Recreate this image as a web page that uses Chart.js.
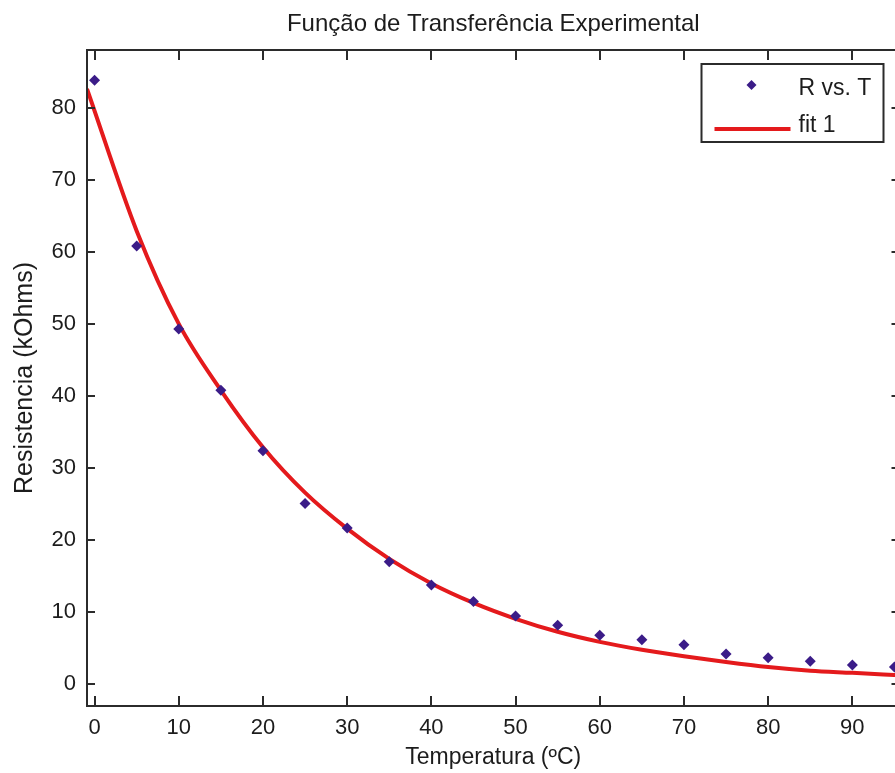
<!DOCTYPE html>
<html>
<head>
<meta charset="utf-8">
<script src="https://cdn.jsdelivr.net/npm/chart.js@4"></script>
<style>
  html, body { margin: 0; padding: 0; background: #fff; overflow: hidden; }
  #caixa { position: absolute; left: 0; top: 0; width: 905px; height: 773px; }
</style>
</head>
<body>
<div id="caixa"><canvas id="grafico"></canvas></div>
<script>
const temperaturas = [0, 5, 10, 15, 20, 25, 30, 35, 40, 45, 50, 55, 60, 65, 70, 75, 80, 85, 90, 95];
const resistencias = [83.8, 60.8, 49.3, 40.8, 32.4, 25.1, 21.7, 17.0, 13.8, 11.5, 9.5, 8.2, 6.8, 6.2, 5.5, 4.2, 3.7, 3.2, 2.7, 2.4];

const ajusteT = [-0.9, 5, 10, 15, 20, 25, 30, 35, 40, 45, 50, 55, 60, 65, 70, 75, 80, 85, 90, 95.6];
const ajusteR = [82.6, 62.9, 50.0, 40.8, 32.9, 26.6, 21.6, 17.4, 14.0, 11.3, 9.1, 7.3, 5.9, 4.8, 3.9, 3.1, 2.4, 1.9, 1.6, 1.25];

// MARCAS DOS EIXOS
const ticksX = [0, 10, 20, 30, 40, 50, 60, 70, 80, 90];
const ticksY = [0, 10, 20, 30, 40, 50, 60, 70, 80];

const nomes = ['R vs. T', 'fit 1'];

const fonte = 'Liberation Sans, Arial, sans-serif';
const corTexto = '#1c1c1c';
const corEixo = '#2b2b2b';
const corPonto = '#3b1c88';
const corAjuste = '#e41a1c';

// caixa do eixo com marcas para dentro (estilo MATLAB)
const eixosMatlab = {
  id: 'eixosMatlab',
  afterDatasetsDraw(chart) {
    const { ctx, chartArea: a, scales: { x, y } } = chart;
    ctx.save();
    ctx.strokeStyle = corEixo;
    ctx.lineWidth = 2;
    ctx.strokeRect(a.left, a.top, a.right - a.left, a.bottom - a.top);
    ctx.beginPath();
    x.ticks.forEach(t => {
      const px = Math.round(x.getPixelForValue(t.value));
      ctx.moveTo(px, a.bottom); ctx.lineTo(px, a.bottom - 10);
      ctx.moveTo(px, a.top); ctx.lineTo(px, a.top + 10);
    });
    y.ticks.forEach(t => {
      const py = Math.round(y.getPixelForValue(t.value));
      ctx.moveTo(a.left, py); ctx.lineTo(a.left + 8, py);
      ctx.moveTo(a.right, py); ctx.lineTo(a.right - 8, py);
    });
    ctx.stroke();
    ctx.restore();
  }
};

// legenda dentro do eixo, canto superior direito
const legendaCaixa = {
  id: 'legendaCaixa',
  afterDraw(chart) {
    const { ctx, chartArea: a } = chart;
    const w = 182, h = 78;
    const x0 = a.right - 16 - w, y0 = a.top + 14;
    ctx.save();
    ctx.fillStyle = '#fff';
    ctx.fillRect(x0, y0, w, h);
    ctx.strokeStyle = corEixo;
    ctx.lineWidth = 2;
    ctx.strokeRect(x0, y0, w, h);

    // marcador
    const mx = x0 + 50, my = y0 + 21;
    ctx.fillStyle = corPonto;
    ctx.beginPath();
    ctx.moveTo(mx, my - 5); ctx.lineTo(mx + 5, my);
    ctx.lineTo(mx, my + 5); ctx.lineTo(mx - 5, my);
    ctx.closePath();
    ctx.fill();

    // linha
    ctx.strokeStyle = corAjuste;
    ctx.lineWidth = 4;
    ctx.beginPath();
    ctx.moveTo(x0 + 13, y0 + 65); ctx.lineTo(x0 + 89, y0 + 65);
    ctx.stroke();

    ctx.fillStyle = corTexto;
    ctx.font = '23px ' + fonte;
    ctx.textBaseline = 'alphabetic';
    ctx.textAlign = 'left';
    ctx.fillText(nomes[0], x0 + 97, y0 + 31);
    ctx.fillText(nomes[1], x0 + 97, y0 + 68);
    ctx.restore();
  }
};

const ctx = document.getElementById('grafico').getContext('2d');

new Chart(ctx, {
  type: 'scatter',
  data: {
    datasets: [{
      label: nomes[0],
      data: temperaturas.map((t, i) => ({ x: t, y: resistencias[i] })),
      pointStyle: 'rectRot',
      pointRadius: 5.5,
      pointBackgroundColor: corPonto,
      pointBorderWidth: 0,
      showLine: false,
      order: 1
    }, {
      label: nomes[1],
      data: ajusteT.map((t, i) => ({ x: t, y: ajusteR[i] })),
      showLine: true,
      borderColor: corAjuste,
      borderWidth: 4,
      pointRadius: 0,
      cubicInterpolationMode: 'monotone',
      order: 2
    }]
  },
  plugins: [eixosMatlab, legendaCaixa],
  options: {
    responsive: true,
    maintainAspectRatio: false,
    animation: false,
    layout: { padding: { left: 0, right: 5, top: 0, bottom: 0 } },
    plugins: {
      legend: { display: false },
      tooltip: { enabled: false },
      title: {
        display: true,
        fullSize: false,
        text: 'Função de Transferência Experimental',
        color: corTexto,
        font: { family: fonte, size: 24, weight: 'normal' },
        padding: { top: 10.3, bottom: 10.9 }
      }
    },
    scales: {
      x: {
        type: 'linear',
        min: -0.9,
        max: 95.6,
        afterBuildTicks: s => { s.ticks = ticksX.map(v => ({ value: v })); },
        afterFit: s => { s.height = 67; },
        grid: { display: false, drawTicks: false },
        border: { display: false },
        ticks: {
          color: corTexto,
          padding: 9,
          maxRotation: 0,
          autoSkip: false,
          font: { family: fonte, size: 22 }
        },
        title: {
          display: true,
          text: 'Temperatura (ºC)',
          color: corTexto,
          font: { family: fonte, size: 23 },
          padding: { top: 0, bottom: 2 }
        }
      },
      y: {
        type: 'linear',
        min: -3,
        max: 88,
        afterBuildTicks: s => { s.ticks = ticksY.map(v => ({ value: v })); },
        afterFit: s => { s.width = 87; },
        grid: { display: false, drawTicks: false },
        border: { display: false },
        ticks: {
          color: corTexto,
          padding: 11,
          autoSkip: false,
          font: { family: fonte, size: 22 }
        },
        title: {
          display: true,
          text: 'Resistencia (kOhms)',
          color: corTexto,
          font: { family: fonte, size: 25 },
          padding: { top: 10, bottom: 0 }
        }
      }
    }
  }
});
</script>
</body>
</html>
